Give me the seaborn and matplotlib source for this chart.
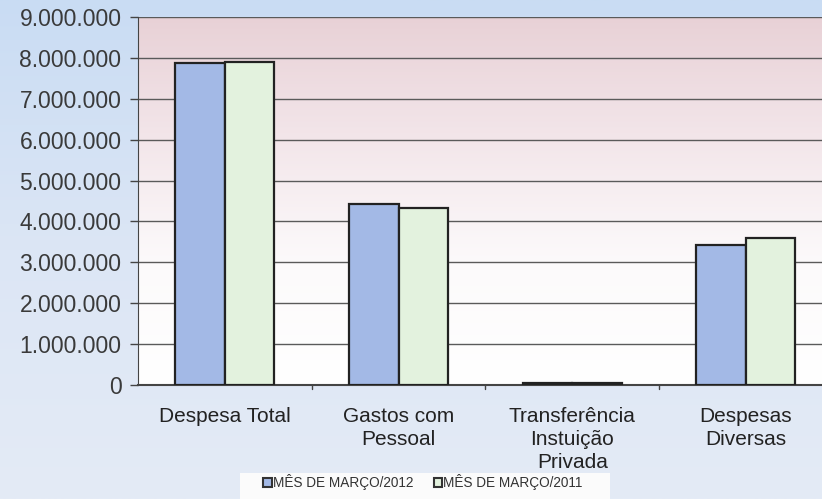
import numpy as np
import pandas as pd
import seaborn as sns
from matplotlib import pyplot as plt
from matplotlib.patches import Patch, Rectangle
from matplotlib.colors import LinearSegmentedColormap

sns.set_style("white")
plt.rcParams['font.family'] = ['Liberation Sans', 'DejaVu Sans']

# dados
categorias = ['Despesa Total', 'Gastos com\nPessoal', 'Transferência\nInstuição\nPrivada', 'Despesas\nDiversas']
series = ['MÊS DE MARÇO/2012', 'MÊS DE MARÇO/2011']
valores_2012 = [7870000, 4430000, 50000, 3420000]
valores_2011 = [7900000, 4330000, 45000, 3600000]
ticks_y = [0, 1000000, 2000000, 3000000, 4000000, 5000000, 6000000, 7000000, 8000000, 9000000]
rotulos_y = ['0', '1.000.000', '2.000.000', '3.000.000', '4.000.000', '5.000.000',
             '6.000.000', '7.000.000', '8.000.000', '9.000.000']

df = pd.DataFrame({
    'categoria': categorias * 2,
    'serie': [series[0]] * 4 + [series[1]] * 4,
    'valor': valores_2012 + valores_2011,
})
cores = ['#a3b9e6', '#e3f2de']

fig = plt.figure(figsize=(8.22, 4.99), dpi=100)

# fundo azul claro da figura
bg = fig.add_axes([0, 0, 1, 1], zorder=-10)
fundo = LinearSegmentedColormap.from_list('fundo', ['#c9dcf3', '#dce6f5', '#e4ebf6'])
bg.imshow(np.linspace(0, 1, 256).reshape(-1, 1), aspect='auto', cmap=fundo, extent=[0, 1, 0, 1])
bg.axis('off')

ax = fig.add_axes([0.168, 0.2285, 0.845, 0.7375])
ax.set_facecolor('none')

# gradiente rosa -> branco na area do grafico
grad = LinearSegmentedColormap.from_list('grad', ['#ffffff', '#fcfafb', '#f3e6ea', '#e8d1d6'])
ax.imshow(np.linspace(0, 1, 256).reshape(-1, 1), aspect='auto', cmap=grad, origin='lower',
          extent=[-0.5, 3.5, 0, 9000000], zorder=0)

sns.barplot(data=df, x='categoria', y='valor', hue='serie', palette=cores, width=0.57,
            saturation=1, edgecolor='#222222', linewidth=1.6, ax=ax, legend=False, zorder=3)

ax.set_xlim(-0.5, 3.5)
ax.set_ylim(0, 9000000)
ax.set_yticks(ticks_y)
ax.set_yticklabels(rotulos_y, fontsize=16.5, color='#3a3a3a')
ax.set_xticks(range(4))
ax.set_xticklabels(categorias, fontsize=15, color='#222222', linespacing=1.25)
ax.tick_params(axis='x', length=0, pad=16)
ax.tick_params(axis='y', length=6, width=1, color='#444444', direction='out', left=True, pad=6)
for t in [0.5, 1.5, 2.5]:
    ax.axvline(t, ymin=-0.012, ymax=0, color='#444444', lw=1, clip_on=False)

ax.grid(axis='y', color='#5a5a5a', linewidth=1, zorder=1)
ax.set_axisbelow(True)
for s in ['top', 'right']:
    ax.spines[s].set_visible(False)
ax.spines['left'].set_color('#444444')
ax.spines['bottom'].set_color('#444444')
ax.spines['bottom'].set_linewidth(1.5)
ax.set_xlabel('')
ax.set_ylabel('')

# caixa branca da legenda
fig.patches.append(Rectangle((240 / 822, 0), 370 / 822, 26 / 499, transform=fig.transFigure,
                             facecolor='#fbfbfb', edgecolor='none', zorder=-5))
handles = [Patch(facecolor=c, edgecolor='#333333', linewidth=1.5) for c in cores]
leg = fig.legend(handles, series, loc='center', bbox_to_anchor=(423 / 822, 17 / 499), ncol=2,
                 fontsize=9.8, frameon=False, handlelength=0.6, handleheight=0.6,
                 handletextpad=0.1, columnspacing=1.5, borderpad=0)
for t in leg.get_texts():
    t.set_color('#333333')

fig.savefig('out.png', dpi=100)
